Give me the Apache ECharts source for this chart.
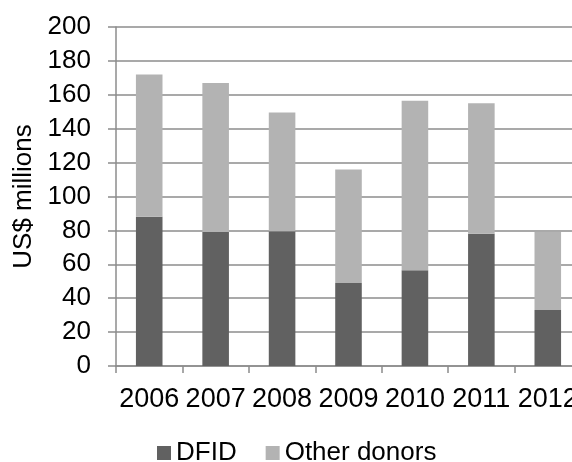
<!DOCTYPE html>
<html>
<head>
<meta charset="utf-8">
<script src="https://cdn.jsdelivr.net/npm/echarts@6/dist/echarts.min.js"></script>
<style>
  html, body { margin: 0; padding: 0; background: #ffffff; overflow: hidden; width: 572px; height: 462px; }
  /* the plot runs slightly past the right edge of the page, so the last year label is cut */
  #chart { width: 581px; height: 462px; }
</style>
</head>
<body>
<div id="chart"></div>
<script>
// Funding by year, split between DFID and other donors (US$ millions)
const years = ['2006', '2007', '2008', '2009', '2010', '2011', '2012'];
const dfid = [88, 79, 79.5, 49, 56.5, 78, 33];
const otherDonors = [84, 88, 70, 67, 100, 77, 46];
const yTicks = { min: 0, max: 200, interval: 20 };

const FONT = '"Liberation Sans", Arial, sans-serif';
const FONT_SIZE = 26;
const AXIS_GRAY = '#8c8c8c';

const chart = echarts.init(document.getElementById('chart'), null, { renderer: 'canvas' });

chart.setOption({
  animation: false,
  textStyle: { fontFamily: FONT },
  grid: { left: 116, top: 27, bottom: 96, right: 0, containLabel: false },
  legend: {
    left: 157,
    top: 440,
    padding: 0,
    itemWidth: 14,
    itemHeight: 14,
    itemGap: 29,
    icon: 'rect',
    textStyle: { fontFamily: FONT, fontSize: FONT_SIZE, color: '#000000' },
    data: ['DFID', 'Other donors']
  },
  xAxis: {
    type: 'category',
    data: years,
    axisLine: { lineStyle: { color: AXIS_GRAY, width: 1.5 } },
    axisTick: { show: true, length: 7, alignWithLabel: false, lineStyle: { color: AXIS_GRAY, width: 1.5 } },
    axisLabel: { interval: 0, margin: 20, fontFamily: FONT, fontSize: 27, color: '#000000', hideOverlap: false }
  },
  yAxis: {
    type: 'value',
    min: yTicks.min,
    max: yTicks.max,
    interval: yTicks.interval,
    name: 'US$ millions',
    nameLocation: 'middle',
    nameGap: 77,
    nameTextStyle: { fontFamily: FONT, fontSize: FONT_SIZE, color: '#000000' },
    axisLine: { show: true, lineStyle: { color: AXIS_GRAY, width: 1.5 } },
    axisTick: { show: true, length: 8, lineStyle: { color: AXIS_GRAY, width: 1.5 } },
    axisLabel: { margin: 25, fontFamily: FONT, fontSize: FONT_SIZE, color: '#000000' },
    splitLine: { show: true, lineStyle: { color: AXIS_GRAY, width: 1.5 } }
  },
  series: [
    {
      name: 'DFID',
      type: 'bar',
      stack: 'total',
      barWidth: '40%',
      itemStyle: { color: '#616161' },
      data: dfid
    },
    {
      name: 'Other donors',
      type: 'bar',
      stack: 'total',
      barWidth: '40%',
      itemStyle: { color: '#b3b3b3' },
      data: otherDonors
    }
  ]
});
</script>
</body>
</html>
